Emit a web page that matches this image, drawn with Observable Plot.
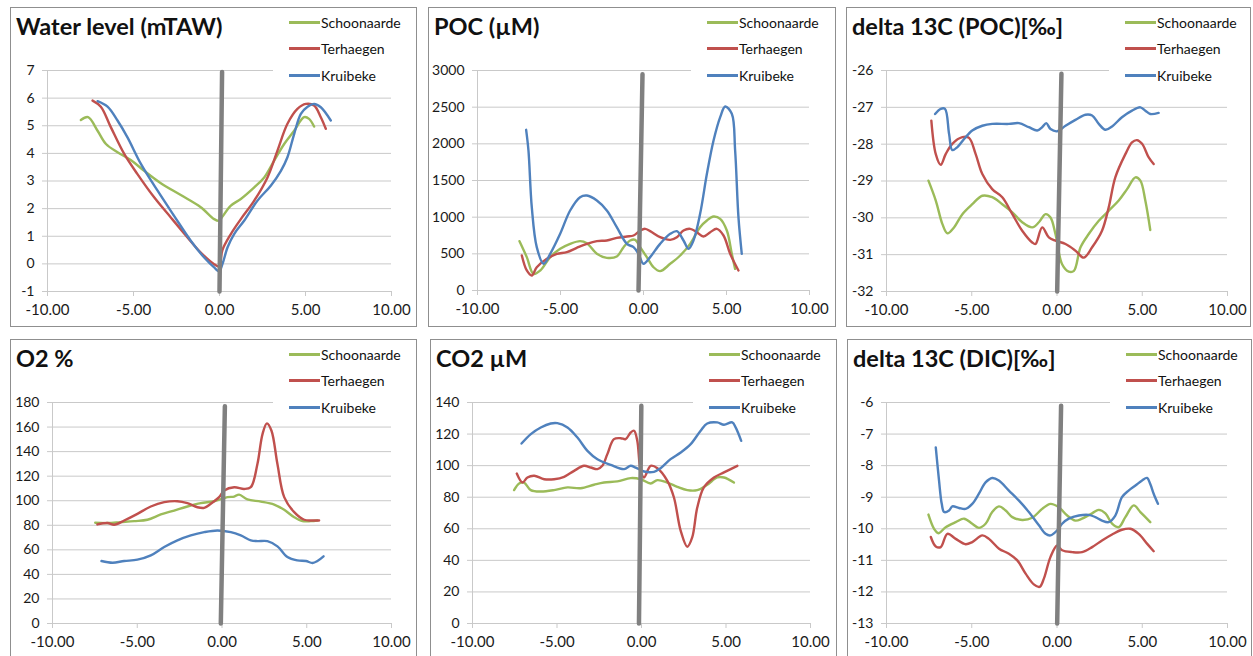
<!DOCTYPE html>
<html><head><meta charset="utf-8">
<script src="https://cdn.jsdelivr.net/npm/d3@7"></script>
<script src="https://cdn.jsdelivr.net/npm/@observablehq/plot@0.6"></script>
<style>
html,body{margin:0;padding:0;background:#fff;overflow:hidden;width:1253px;height:656px;position:relative}
.panel{position:absolute;border:1px solid #8f8f8f;box-sizing:border-box;background:#fff;overflow:hidden}
.panel svg{position:absolute;left:0;top:0}
.title{position:absolute;left:5px;top:3.5px;font:bold 23.5px Lato,sans-serif;color:#111;white-space:nowrap;line-height:normal}
.legend{position:absolute;left:262px;top:0;right:0;height:80px;background:#fff}
.item{position:absolute;left:0;height:18px;display:flex;align-items:center;font:14px Lato,sans-serif;color:#111;white-space:nowrap}
.sw{display:inline-block;width:31px;height:3px;margin-left:15.5px;margin-right:1.5px}
</style>
</head><body>
<script>
// ---- series names / colours ----
const seriesNames = ["Schoonaarde", "Terhaegen", "Kruibeke"];
const seriesColors = ["#9bbb59", "#c0504d", "#4f81bd"];
const xTicks = [-10, -5, 0, 5, 10];

// ---- Water level (mTAW) ----
const waterSch = [[-8.06,5.21],[-7.64,5.31],[-7.09,4.82],[-6.6,4.34],[-5.93,4.04],[-5.16,3.76],[-4.38,3.37],[-3.41,2.92],[-2.25,2.49],[-1.09,2.05],[-0.31,1.62],[-0.02,1.56],[0.17,1.71],[0.66,2.11],[1.24,2.35],[2.02,2.77],[2.6,3.13],[3.18,3.74],[3.76,4.34],[4.34,4.82],[4.92,5.31],[5.21,5.25],[5.5,4.97]];
const waterTer = [[-7.38,5.91],[-6.9,5.69],[-6.32,4.95],[-5.54,3.98],[-4.77,3.25],[-3.8,2.41],[-2.83,1.68],[-1.86,0.96],[-1.09,0.41],[-0.31,-0.01],[-0.02,-0.09],[0.17,0.5],[0.66,1.08],[1.24,1.62],[2.02,2.29],[2.79,3.13],[3.37,4.1],[3.95,5.07],[4.53,5.61],[5.02,5.79],[5.5,5.73],[5.89,5.31],[6.18,4.89]];
const waterKru = [[-7.09,5.89],[-6.51,5.69],[-5.93,5.19],[-5.35,4.58],[-4.57,3.62],[-3.6,2.65],[-2.64,1.74],[-1.67,0.84],[-0.89,0.23],[-0.31,-0.13],[-0.02,-0.27],[0.17,-0.01],[0.47,0.6],[0.85,1.08],[1.43,1.56],[2.21,2.29],[2.98,2.83],[3.57,3.37],[3.95,3.86],[4.34,4.7],[4.73,5.43],[5.12,5.69],[5.5,5.79],[5.89,5.67],[6.47,5.19]];
const waterZero = [[0.15,6.95],[0.0,-1]];
const waterTicks = [-1,0,1,2,3,4,5,6,7];

// ---- POC (µM) ----
const pocSch = [[-7.47,673],[-7.03,455],[-6.63,227],[-6.22,273],[-5.62,455],[-5.02,568],[-4.42,636],[-3.82,673],[-3.41,645],[-2.81,500],[-2.21,445],[-1.61,464],[-1.2,591],[-0.8,682],[-0.5,691],[-0.2,591],[0.2,455],[0.6,318],[1.0,264],[1.61,364],[2.21,477],[2.81,636],[3.41,864],[3.82,955],[4.22,1009],[4.62,977],[5.02,818],[5.32,500],[5.52,295]];
const pocTer = [[-7.33,477],[-7.03,273],[-6.73,205],[-6.43,318],[-5.82,432],[-5.22,500],[-4.62,523],[-4.02,582],[-3.41,636],[-2.81,673],[-2.21,682],[-1.61,718],[-1.0,736],[-0.6,750],[-0.2,818],[0.1,841],[0.4,809],[1.0,727],[1.61,691],[2.01,727],[2.41,818],[2.81,841],[3.21,795],[3.61,736],[4.02,795],[4.42,841],[4.82,750],[5.22,500],[5.72,273]];
const pocKru = [[-7.07,2191],[-6.93,1909],[-6.73,1136],[-6.43,591],[-6.02,364],[-5.62,500],[-5.02,773],[-4.42,1091],[-3.82,1273],[-3.41,1295],[-2.81,1227],[-2.21,1091],[-1.61,864],[-1.0,636],[-0.6,591],[-0.3,500],[0.0,364],[0.4,455],[1.0,636],[1.61,773],[2.01,809],[2.41,682],[2.71,568],[3.01,682],[3.41,1045],[3.82,1591],[4.22,2045],[4.62,2364],[4.92,2509],[5.32,2409],[5.52,1909],[5.72,1000],[5.92,500]];
const pocZero = [[-0.06,2950],[-0.3,0]];
const pocTicks = [0,500,1000,1500,2000,2500,3000];

// ---- delta 13C (POC) ----
const d13pocSch = [[-7.54,-28.99],[-7.11,-29.53],[-6.72,-30.17],[-6.43,-30.42],[-6.04,-30.26],[-5.55,-29.9],[-4.97,-29.63],[-4.38,-29.4],[-3.8,-29.44],[-3.21,-29.63],[-2.62,-29.85],[-2.04,-30.12],[-1.45,-30.26],[-1.06,-30.12],[-0.67,-29.9],[-0.38,-29.99],[-0.09,-30.44],[0.3,-31.26],[0.69,-31.46],[0.99,-31.44],[1.38,-30.8],[1.86,-30.44],[2.45,-30.08],[3.03,-29.81],[3.62,-29.53],[4.11,-29.22],[4.6,-28.9],[4.89,-28.99],[5.18,-29.53],[5.47,-30.33]];
const d13pocTer = [[-7.37,-27.36],[-7.11,-28.27],[-6.82,-28.56],[-6.53,-28.27],[-6.14,-27.99],[-5.55,-27.81],[-5.16,-27.83],[-4.77,-28.27],[-4.38,-28.81],[-3.8,-29.22],[-3.21,-29.44],[-2.62,-29.9],[-2.04,-30.35],[-1.45,-30.67],[-1.26,-30.71],[-0.87,-30.26],[-0.48,-30.53],[-0.09,-30.62],[0.5,-30.71],[1.08,-30.89],[1.57,-31.08],[2.06,-30.8],[2.64,-30.35],[3.03,-29.72],[3.42,-28.9],[4.01,-28.27],[4.4,-27.95],[4.69,-27.89],[4.99,-27.99],[5.38,-28.36],[5.67,-28.54]];
const d13pocKru = [[-7.15,-27.18],[-6.82,-27.04],[-6.57,-27.04],[-6.33,-27.72],[-6.14,-28.16],[-5.84,-28.08],[-5.45,-27.86],[-4.97,-27.63],[-4.38,-27.5],[-3.8,-27.45],[-2.82,-27.45],[-2.23,-27.43],[-1.65,-27.54],[-1.16,-27.63],[-0.87,-27.54],[-0.63,-27.43],[-0.38,-27.59],[0.01,-27.65],[0.5,-27.5],[1.08,-27.34],[1.67,-27.2],[2.06,-27.22],[2.45,-27.45],[2.84,-27.61],[3.23,-27.52],[3.81,-27.27],[4.4,-27.09],[4.89,-27.0],[5.18,-27.09],[5.47,-27.18],[5.96,-27.15]];
const d13pocZero = [[0.26,-26.09],[0.01,-32]];
const d13pocTicks = [-32,-31,-30,-29,-28,-27,-26];

// ---- O2 % ----
const o2Sch = [[-7.48,82.0],[-6.76,81.8],[-5.97,82.6],[-5.18,83.4],[-4.4,84.5],[-3.61,88.8],[-2.82,92.0],[-2.04,95.3],[-1.25,98.0],[-0.46,99.6],[0.32,102.9],[0.72,103.4],[1.01,105.0],[1.5,101.0],[2.29,99.3],[3.08,96.9],[3.67,92.6],[4.26,86.6],[4.75,83.4],[5.24,83.4],[5.63,83.9]];
const o2Ter = [[-7.35,80.7],[-6.76,81.8],[-6.36,80.4],[-5.77,83.9],[-4.99,89.3],[-4.2,95.3],[-3.41,98.8],[-2.63,99.6],[-2.04,98.0],[-1.45,94.7],[-1.05,94.2],[-0.66,97.5],[-0.17,102.9],[0.13,108.3],[0.72,111.0],[1.31,109.6],[1.7,111.0],[2.09,129.9],[2.39,154.3],[2.65,163.0],[2.92,157.0],[3.27,129.9],[3.67,102.9],[4.26,90.7],[4.85,84.5],[5.34,83.9],[5.73,83.9]];
const o2Kru = [[-7.11,50.9],[-6.46,49.5],[-5.77,50.9],[-4.99,52.0],[-4.2,55.5],[-3.41,62.3],[-2.63,67.7],[-1.84,71.7],[-1.05,74.4],[-0.27,75.8],[0.52,74.4],[1.11,71.7],[1.7,67.7],[2.09,67.1],[2.68,67.1],[3.27,62.8],[3.86,54.1],[4.45,51.4],[4.95,50.9],[5.34,49.3],[5.63,50.9],[5.99,54.7]];
const o2Zero = [[0.17,177],[-0.07,0]];
const o2Ticks = [0,20,40,60,80,100,120,140,160,180];

// ---- CO2 µM ----
const co2Sch = [[-7.54,84.5],[-7.24,88.7],[-6.95,89.3],[-6.55,84.5],[-5.96,83.6],[-5.17,84.5],[-4.38,86.2],[-3.6,85.7],[-2.81,87.9],[-2.22,89.3],[-1.43,90.0],[-0.64,92.1],[-0.05,91.4],[0.54,88.7],[0.94,90.8],[1.53,89.3],[2.12,86.6],[2.71,84.5],[3.3,84.5],[3.89,87.9],[4.48,92.5],[4.88,92.5],[5.47,89.3]];
const co2Ter = [[-7.38,95.0],[-7.04,89.3],[-6.75,92.5],[-6.35,93.6],[-5.76,91.4],[-5.17,91.4],[-4.58,92.9],[-3.99,96.7],[-3.4,99.9],[-3.0,98.8],[-2.61,97.8],[-2.32,99.9],[-2.02,107.3],[-1.63,116.8],[-1.23,117.4],[-0.94,116.8],[-0.64,121.0],[-0.44,122.1],[-0.25,115.7],[-0.05,96.7],[0.15,92.5],[0.54,99.9],[0.94,98.4],[1.53,90.4],[1.92,79.8],[2.32,58.7],[2.71,48.6],[3.0,54.5],[3.3,73.5],[3.69,86.2],[4.29,92.5],[4.88,95.7],[5.67,99.9]];
const co2Kru = [[-7.1,114.0],[-6.55,120.0],[-5.96,124.2],[-5.37,126.7],[-4.98,126.9],[-4.38,124.2],[-3.79,117.8],[-3.2,109.4],[-2.61,104.1],[-1.82,100.5],[-1.03,97.8],[-0.64,99.9],[-0.35,98.8],[0.15,96.3],[0.74,96.1],[1.13,98.4],[1.72,104.1],[2.32,108.3],[2.91,113.6],[3.5,122.1],[3.89,126.7],[4.48,127.4],[4.88,125.9],[5.37,127.4],[5.57,124.2],[5.9,115.7]];
const co2Zero = [[-0.01,138],[-0.15,0]];
const co2Ticks = [0,20,40,60,80,100,120,140];

// ---- delta 13C (DIC) ----
const d13dicSch = [[-7.54,-9.55],[-7.21,-10.0],[-6.96,-10.14],[-6.53,-9.95],[-5.94,-9.79],[-5.45,-9.68],[-4.97,-9.84],[-4.58,-9.97],[-4.19,-9.84],[-3.8,-9.47],[-3.41,-9.29],[-3.01,-9.42],[-2.62,-9.63],[-2.04,-9.72],[-1.45,-9.65],[-0.87,-9.37],[-0.38,-9.21],[0.11,-9.32],[0.6,-9.58],[1.08,-9.74],[1.47,-9.68],[2.06,-9.51],[2.45,-9.4],[2.84,-9.51],[3.23,-9.84],[3.62,-9.95],[4.01,-9.63],[4.5,-9.26],[4.89,-9.47],[5.47,-9.79]];
const d13dicTer = [[-7.4,-10.26],[-7.11,-10.56],[-6.82,-10.58],[-6.43,-10.16],[-5.94,-10.32],[-5.36,-10.49],[-4.97,-10.42],[-4.38,-10.21],[-3.99,-10.32],[-3.4,-10.63],[-2.82,-10.79],[-2.33,-11.0],[-1.84,-11.42],[-1.36,-11.76],[-1.02,-11.84],[-0.77,-11.58],[-0.38,-10.89],[0.01,-10.53],[0.3,-10.68],[0.89,-10.74],[1.47,-10.74],[2.06,-10.58],[2.64,-10.37],[3.23,-10.18],[3.81,-10.03],[4.3,-10.0],[4.79,-10.16],[5.28,-10.47],[5.67,-10.71]];
const d13dicKru = [[-7.11,-7.42],[-6.92,-8.47],[-6.76,-9.21],[-6.62,-9.47],[-6.33,-9.42],[-6.14,-9.29],[-5.75,-9.34],[-5.36,-9.37],[-4.97,-9.21],[-4.58,-8.89],[-4.19,-8.53],[-3.8,-8.39],[-3.41,-8.47],[-2.82,-8.79],[-2.23,-9.11],[-1.65,-9.47],[-1.06,-9.89],[-0.67,-10.16],[-0.38,-10.21],[0.01,-10.05],[0.3,-9.84],[0.69,-9.68],[1.28,-9.58],[1.86,-9.56],[2.25,-9.63],[2.64,-9.74],[3.03,-9.79],[3.42,-9.58],[3.81,-9.0],[4.2,-8.79],[4.6,-8.63],[4.99,-8.47],[5.28,-8.39],[5.47,-8.58],[5.67,-8.89],[5.92,-9.21]];
const d13dicZero = [[0.24,-6.1],[0.01,-13]];
const d13dicTicks = [-13,-12,-11,-10,-9,-8,-7,-6];

// ---- panel layout ----
const panels = [
  {title:"Water level (mTAW)", series:[waterSch,waterTer,waterKru], zero:waterZero, yTicks:waterTicks, left:10, top:7, w:407, m:[62,25,35,36]},
  {title:"POC (µM)", series:[pocSch,pocTer,pocKru], zero:pocZero, yTicks:pocTicks, left:428, top:7, w:408, m:[62,26,36,48]},
  {title:"delta 13C (POC)[‰]", series:[d13pocSch,d13pocTer,d13pocKru], zero:d13pocZero, yTicks:d13pocTicks, left:846, top:7, w:405, m:[62,23,35,39]},
  {title:"O2 %", series:[o2Sch,o2Ter,o2Kru], zero:o2Zero, yTicks:o2Ticks, left:10, top:339, w:407, m:[62,25,35,41]},
  {title:"CO2 µM", series:[co2Sch,co2Ter,co2Kru], zero:co2Zero, yTicks:co2Ticks, left:430, top:339, w:407, m:[62,26,35,41]},
  {title:"delta 13C (DIC)[‰]", series:[d13dicSch,d13dicTer,d13dicKru], zero:d13dicZero, yTicks:d13dicTicks, left:847, top:339, w:405, m:[62,24,35,38]}
];

const H = 320;
for (const p of panels) {
  const div = document.createElement("div");
  div.className = "panel";
  Object.assign(div.style, {left: p.left + "px", top: p.top + "px", width: p.w + "px", height: H + "px"});
  document.body.appendChild(div);
  const innerW = p.w - 2, innerH = H - 2;
  const y0 = p.yTicks[0], y1 = p.yTicks[p.yTicks.length - 1];
  const gridC = "#c9c9c9";
  const lines = p.series.map((s, i) => Plot.line(s, {x: d => d[0], y: d => d[1], stroke: seriesColors[i], strokeWidth: 2.4, curve: "catmull-rom"}));
  const svg = Plot.plot({
    width: innerW, height: innerH,
    marginTop: p.m[0], marginRight: p.m[1], marginBottom: p.m[2], marginLeft: p.m[3],
    style: {fontFamily: "Lato, sans-serif", fontSize: "14px", color: "#1a1a1a", background: "transparent"},
    x: {domain: [-10, 10]},
    y: {domain: [y0, y1]},
    marks: [
      Plot.gridY(p.yTicks, {stroke: gridC, strokeOpacity: 1}),
      Plot.ruleX([-10], {stroke: gridC}),
      Plot.ruleY([y0], {stroke: gridC}),
      Plot.axisY(p.yTicks, {tickSize: 5, tickPadding: 8, tickFormat: d => String(d), stroke: gridC, fill: "#1a1a1a", label: null}),
      Plot.axisX(xTicks, {tickSize: 5, tickPadding: 8, fontSize: 15, tickFormat: d => d.toFixed(2), stroke: gridC, fill: "#1a1a1a", label: null}),
      ...lines,
      Plot.line(p.zero, {x: d => d[0], y: d => d[1], stroke: "#808080", strokeWidth: 4.5})
    ]
  });
  div.appendChild(svg);
  const t = document.createElement("div");
  t.className = "title";
  t.textContent = p.title;
  div.appendChild(t);
  const lg = document.createElement("div");
  lg.className = "legend";
  seriesNames.forEach((n, i) => {
    const it = document.createElement("div");
    it.className = "item";
    it.style.top = (14 + i * 26.6 - 9) + "px";
    const sw = document.createElement("span");
    sw.className = "sw";
    sw.style.background = seriesColors[i];
    it.appendChild(sw);
    it.appendChild(document.createTextNode(n));
    lg.appendChild(it);
  });
  div.appendChild(lg);
}
</script>
</body></html>
